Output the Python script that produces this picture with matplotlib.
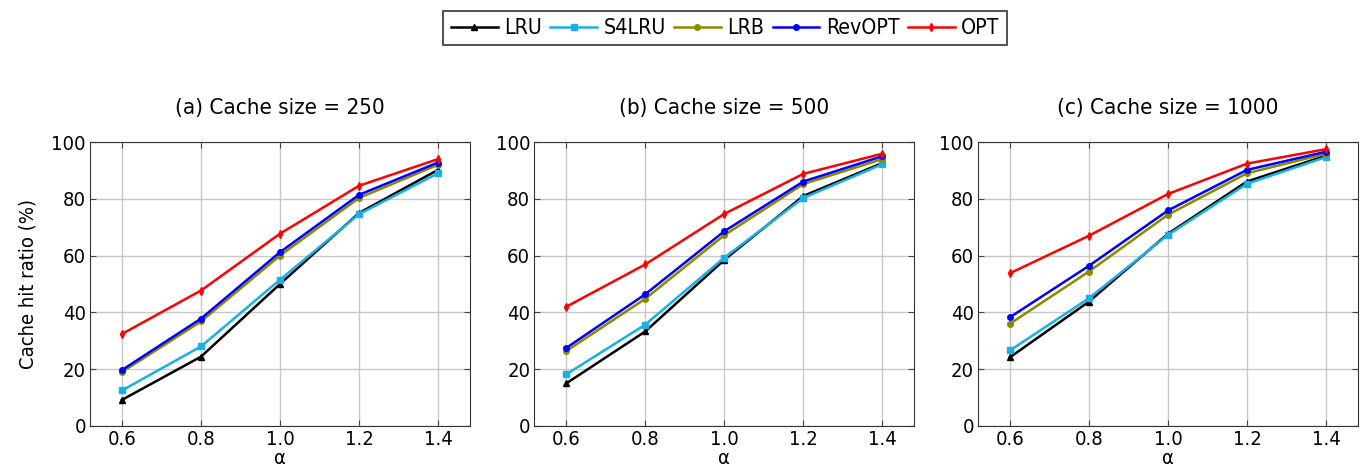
import numpy as np
import matplotlib
matplotlib.use('Agg')
import matplotlib.pyplot as plt

plt.rcParams['font.family'] = ['DejaVu Sans']
plt.rcParams['font.stretch'] = 'condensed'
plt.rcParams['font.size'] = 14.5

# zipf skewness values
alpha = [0.6, 0.8, 1.0, 1.2, 1.4]

titles = ['(a) Cache size = 250', '(b) Cache size = 500', '(c) Cache size = 1000']
methods = ['LRU', 'S4LRU', 'LRB', 'RevOPT', 'OPT']

# hit ratio (%) per cache size
lru_250 = [9.2, 24.4, 50.0, 75.0, 90.2]
s4lru_250 = [12.5, 28.0, 51.5, 74.6, 89.0]
lrb_250 = [19.0, 36.8, 60.0, 80.3, 92.0]
revopt_250 = [19.7, 37.8, 61.2, 81.4, 92.8]
opt_250 = [32.4, 47.7, 67.7, 84.6, 94.0]

lru_500 = [15.0, 33.3, 58.5, 81.0, 92.6]
s4lru_500 = [18.2, 35.7, 59.3, 80.3, 92.2]
lrb_500 = [26.4, 44.8, 67.2, 85.2, 94.0]
revopt_500 = [27.5, 46.4, 68.6, 86.1, 95.0]
opt_500 = [42.0, 56.9, 74.7, 88.8, 95.9]

lru_1000 = [24.2, 43.8, 67.7, 86.1, 95.2]
s4lru_1000 = [26.6, 45.0, 67.3, 85.3, 94.7]
lrb_1000 = [36.0, 54.4, 74.4, 89.0, 95.9]
revopt_1000 = [38.3, 56.4, 75.9, 90.2, 96.6]
opt_1000 = [53.8, 67.0, 81.7, 92.4, 97.5]

panels = [
    [lru_250, s4lru_250, lrb_250, revopt_250, opt_250],
    [lru_500, s4lru_500, lrb_500, revopt_500, opt_500],
    [lru_1000, s4lru_1000, lrb_1000, revopt_1000, opt_1000],
]

colors = ['black', '#1ab0e6', '#8a8a00', '#0000ff', '#ff0000']
markers = ['^', 's', 'o', 'o', 'd']

fig = plt.figure(figsize=(13.63, 4.74), dpi=100)
lefts = [0.066, 0.392, 0.7175]
axes = []
for i, left in enumerate(lefts):
    ax = fig.add_axes([left, 0.1013, 0.2788, 0.599])
    axes.append(ax)
    for name, vals, c, m in zip(methods, panels[i], colors, markers):
        ax.plot(alpha, vals, color=c, marker=m, markersize=4, linewidth=1.8, label=name)
    ax.set_xlim(0.519, 1.481)
    ax.set_ylim(0, 100)
    ax.set_xticks(alpha)
    ax.set_xticklabels(['0.6', '0.8', '1.0', '1.2', '1.4'])
    ax.set_yticks([0, 20, 40, 60, 80, 100])
    ax.grid(True, color='#c8c8c8', linewidth=1)
    ax.set_axisbelow(True)
    ax.tick_params(direction='in', top=True, right=True, length=4, color='#444444', pad=3)
    for s in ax.spines.values():
        s.set_color('#333333')
    ax.set_title(titles[i], fontsize=16, pad=20)
    ax.set_xlabel('α', labelpad=0)

axes[0].set_ylabel('Cache hit ratio (%)', labelpad=10)

handles, labels = axes[0].get_legend_handles_labels()
leg = fig.legend(handles, labels, ncol=5, loc='center', bbox_to_anchor=(0.532, 0.941),
                 frameon=True, fancybox=False, edgecolor='black', handlelength=2.2,
                 handletextpad=0.3, columnspacing=0.4, borderpad=0.35, fontsize=15.3)
leg.get_frame().set_linewidth(1.2)

fig.savefig('out.png', dpi=100)
